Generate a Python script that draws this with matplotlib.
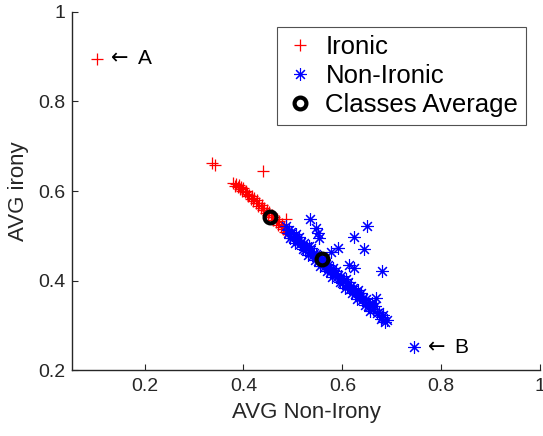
import matplotlib
matplotlib.use("Agg")
import matplotlib.pyplot as plt

plt.rcParams['font.family'] = ['Liberation Sans', 'DejaVu Sans']
plt.rcParams['mathtext.fontset'] = 'dejavusans'

# Ironic class (red +)
ironic_x = [0.378, 0.382, 0.385, 0.388, 0.390, 0.393, 0.395, 0.398, 0.400, 0.403,
            0.405, 0.408, 0.410, 0.412, 0.415, 0.417, 0.420, 0.422, 0.425, 0.427,
            0.430, 0.432, 0.435, 0.437, 0.440, 0.442, 0.445, 0.447, 0.450, 0.452,
            0.455, 0.457, 0.460, 0.462, 0.465, 0.467, 0.470, 0.472, 0.475, 0.477,
            0.480, 0.482, 0.485, 0.488, 0.490, 0.493,
            0.337, 0.342, 0.440, 0.487]
ironic_y = [0.617, 0.612, 0.616, 0.609, 0.613, 0.604, 0.609, 0.600, 0.606, 0.597,
            0.601, 0.594, 0.588, 0.592, 0.583, 0.589, 0.578, 0.584, 0.573, 0.579,
            0.567, 0.574, 0.562, 0.569, 0.557, 0.563, 0.551, 0.558, 0.546, 0.552,
            0.541, 0.547, 0.536, 0.542, 0.530, 0.537, 0.525, 0.532, 0.519, 0.526,
            0.514, 0.520, 0.509, 0.513, 0.505, 0.508,
            0.662, 0.658, 0.645, 0.537]

# Non-ironic class (blue *)
nonironic_x = [0.487, 0.490, 0.492, 0.495, 0.497, 0.500, 0.502, 0.505, 0.507, 0.510,
               0.512, 0.515, 0.517, 0.520, 0.522, 0.525, 0.527, 0.530, 0.532, 0.535,
               0.537, 0.540, 0.542, 0.545, 0.547, 0.550, 0.552, 0.555, 0.557, 0.560,
               0.562, 0.565, 0.567, 0.570, 0.572, 0.575, 0.577, 0.580, 0.582, 0.585,
               0.587, 0.590, 0.592, 0.595, 0.597, 0.600, 0.602, 0.605, 0.607, 0.610,
               0.612, 0.615, 0.617, 0.620, 0.622, 0.625, 0.627, 0.630, 0.632, 0.635,
               0.637, 0.640, 0.642, 0.645, 0.648, 0.651, 0.654, 0.657, 0.660, 0.663,
               0.666, 0.670, 0.674, 0.678, 0.682, 0.686, 0.690,
               0.535, 0.547, 0.552, 0.550, 0.650, 0.624, 0.644, 0.592, 0.578, 0.614,
               0.624, 0.681, 0.669, 0.655, 0.681, 0.745]
nonironic_y = [0.522, 0.507, 0.512, 0.496, 0.509, 0.494, 0.499, 0.483, 0.503, 0.489,
               0.497, 0.482, 0.487, 0.471, 0.484, 0.469, 0.474, 0.458, 0.478, 0.464,
               0.472, 0.457, 0.462, 0.446, 0.459, 0.444, 0.449, 0.433, 0.453, 0.439,
               0.447, 0.432, 0.437, 0.421, 0.434, 0.419, 0.424, 0.408, 0.428, 0.414,
               0.422, 0.407, 0.412, 0.396, 0.409, 0.394, 0.399, 0.383, 0.403, 0.389,
               0.397, 0.382, 0.387, 0.371, 0.384, 0.369, 0.374, 0.358, 0.378, 0.364,
               0.372, 0.357, 0.362, 0.346, 0.358, 0.343, 0.347, 0.331, 0.350, 0.336,
               0.343, 0.327, 0.330, 0.313, 0.324, 0.308, 0.311,
               0.538, 0.518, 0.496, 0.507, 0.522, 0.498, 0.471, 0.473, 0.464, 0.435,
               0.429, 0.422, 0.360, 0.344, 0.318, 0.251]

# Class averages
avg_x = [0.453, 0.558]
avg_y = [0.542, 0.447]

# Annotated points
annot_labels = ['A', 'B']
annot_x = [0.103, 0.745]
annot_y = [0.895, 0.251]

xticks = [0.2, 0.4, 0.6, 0.8, 1.0]
xticklabels = ['0.2', '0.4', '0.6', '0.8', '1']
yticks = [0.2, 0.4, 0.6, 0.8, 1.0]
yticklabels = ['0.2', '0.4', '0.6', '0.8', '1']

fig = plt.figure(figsize=(5.43, 4.36), dpi=100)
ax = fig.add_axes([72/543, 66/436, 468/543, 358/436])

ink = '#262626'
ax.plot(ironic_x + [annot_x[0]], ironic_y + [annot_y[0]], linestyle='none',
        marker='+', color='#ff0000', markersize=9, markeredgewidth=0.9,
        label='Ironic')
ax.plot(nonironic_x, nonironic_y, linestyle='none', marker=(8, 2, 0),
        color='#0000ff', markersize=9, markeredgewidth=0.8, label='Non-Ironic')
ax.plot(avg_x, avg_y, linestyle='none', marker='o', markerfacecolor='none',
        markeredgecolor='black', markersize=8.5, markeredgewidth=3,
        label='Classes Average')

for lab, x, y in zip(annot_labels, annot_x, annot_y):
    ax.text(x + 0.018, y, r'$\leftarrow$' + ' ' + lab, ha='left', va='center',
            fontsize=15, color='black')

ax.set_xlim(0.053, 1.0)
ax.set_ylim(0.2, 1.0)
ax.set_xticks(xticks)
ax.set_xticklabels(xticklabels)
ax.set_yticks(yticks)
ax.set_yticklabels(yticklabels)

for s in ['top', 'right']:
    ax.spines[s].set_visible(False)
for s in ['left', 'bottom']:
    ax.spines[s].set_color(ink)
    ax.spines[s].set_linewidth(1.0)

ax.tick_params(axis='both', direction='in', length=4, width=0.8, color=ink,
               labelcolor=ink, labelsize=14)
ax.tick_params(axis='x', pad=6)
ax.tick_params(axis='y', pad=5)

ax.set_xlabel('AVG Non-Irony', fontsize=16, color=ink, labelpad=5)
ax.set_ylabel('AVG irony', fontsize=16, color=ink, labelpad=6)

leg = ax.legend(loc='upper right', bbox_to_anchor=(0.970, 0.958),
                borderaxespad=0, fontsize=18.5, frameon=True, fancybox=False,
                labelspacing=0.2, handletextpad=0.4, handlelength=1.2,
                borderpad=0.3)
leg.get_frame().set_edgecolor(ink)
leg.get_frame().set_linewidth(0.8)

fig.savefig('out.png', dpi=100)
